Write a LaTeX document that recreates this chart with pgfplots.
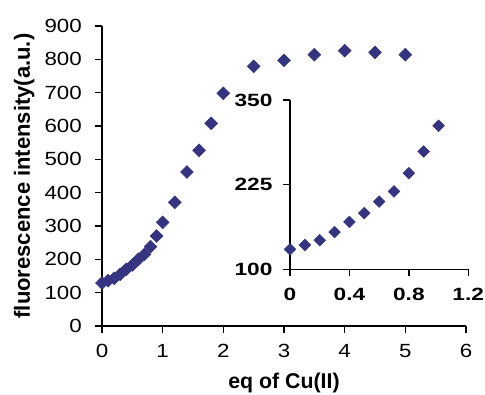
\documentclass[border=0pt]{standalone}
\usepackage{fontspec}
\setmainfont{Liberation Sans}
\newfontfamily\tickfont[FakeStretch=1.17]{Liberation Sans}
\newfontfamily\insetfont[FakeStretch=1.28]{Liberation Sans}
\usepackage{pgfplots}
\pgfplotsset{compat=1.18}
\definecolor{navy}{RGB}{53,52,128}
\begin{document}
\begin{tikzpicture}
\path[use as bounding box] (-76.5pt,-51.75pt) rectangle (287.25pt,244.5pt);
\begin{axis}[
  at={(0pt,0pt)}, anchor=south west,
  scale only axis, width=273pt, height=225pt,
  xmin=0, xmax=6, ymin=0, ymax=900,
  axis x line=bottom, axis y line=left,
  axis line style={-, line width=1.1pt, black},
  tick align=outside, major tick length=5pt,
  every tick/.style={black, line width=1.1pt},
  xtick={0,1,2,3,4,5,6}, ytick={0,100,...,900},
  /pgf/number format/assume math mode=true,
  ticklabel style={font=\tickfont\fontsize{14.3}{16}\selectfont},
  xticklabel style={anchor=north, inner sep=0pt, yshift=-8.7pt},
  yticklabel style={anchor=east, inner sep=0pt, xshift=-10pt},
  xlabel={eq of Cu(II)},
  ylabel={fluorescence intensity(a.u.)},
  xlabel style={font=\bfseries\fontsize{16}{18}\selectfont, at={(axis description cs:0.5,-0.2067)}, anchor=base},
  ylabel style={font=\bfseries\fontsize{16.5}{18}\selectfont, at={(axis description cs:-0.198,0.5)}, anchor=base},
  clip=false,
]
\addplot[only marks, mark=square*, mark size=3.4pt, color=navy,
  mark options={rotate=45, draw=navy, fill=navy}] coordinates {
  (0,129) (0.1,136) (0.2,143) (0.3,155) (0.4,170) (0.5,183) (0.6,200)
  (0.7,215) (0.8,238) (0.9,270) (1.0,311) (1.2,371) (1.4,462) (1.6,527)
  (1.8,608) (2.0,698) (2.5,779) (3.0,797) (3.5,814) (4.0,826) (4.5,821) (5.0,814)
};
\end{axis}
\begin{axis}[
  at={(141pt,42.5pt)}, anchor=south west,
  scale only axis, width=133.7pt, height=127pt,
  xmin=0, xmax=1.2, ymin=100, ymax=350,
  axis x line=bottom, axis y line=left,
  axis line style={-, line width=1.1pt, black},
  tick align=outside, major tick length=5pt,
  every tick/.style={black, line width=1.1pt},
  xtick={0,0.4,0.8,1.2}, ytick={100,225,350},
  xticklabels={0,0.4,0.8,1.2},
  /pgf/number format/assume math mode=true,
  ticklabel style={font=\insetfont\bfseries\fontsize{13.3}{15}\selectfont},
  xticklabel style={anchor=north, inner sep=0pt, yshift=-9pt},
  yticklabel style={anchor=east, inner sep=0pt, xshift=-8pt},
  clip=false,
]
\addplot[only marks, mark=square*, mark size=3.1pt, color=navy,
  mark options={rotate=45, draw=navy, fill=navy}] coordinates {
  (0,129.5) (0.1,136) (0.2,143) (0.3,155) (0.4,170) (0.5,183) (0.6,200)
  (0.7,215) (0.8,242) (0.9,274) (1.0,312)
};
\end{axis}
\end{tikzpicture}
\end{document}
